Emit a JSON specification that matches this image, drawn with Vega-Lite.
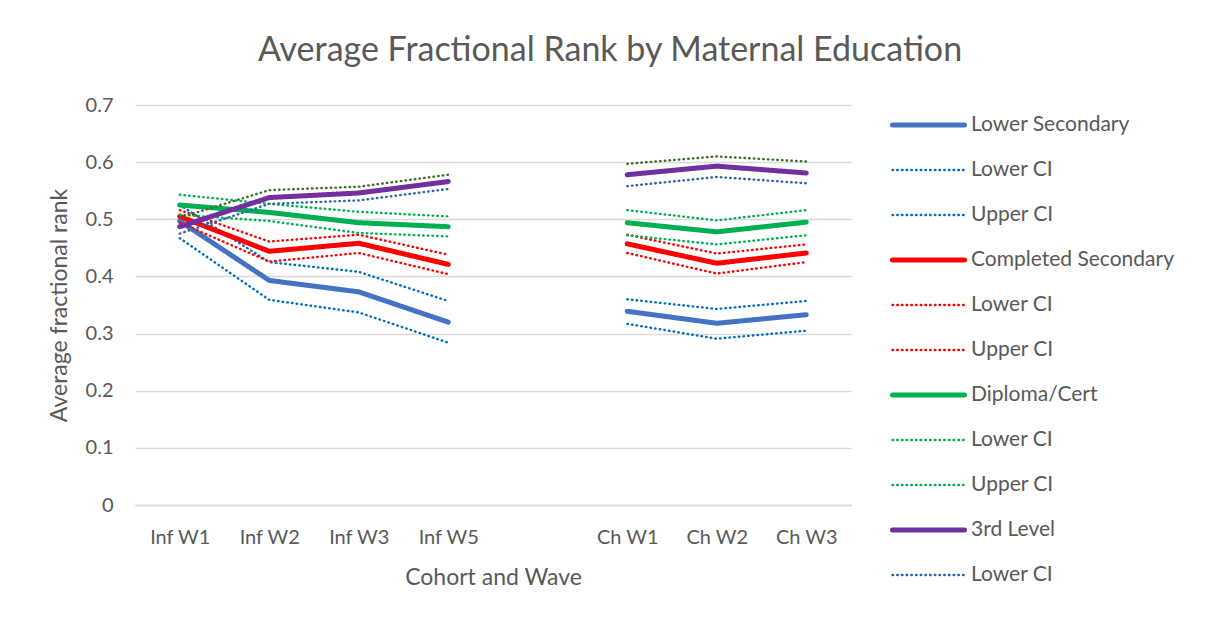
{
  "$schema": "https://vega.github.io/schema/vega-lite/v6.json",
  "width": 716,
  "height": 400,
  "autosize": {"type": "none"},
  "padding": {"left": 135, "top": 105, "right": 360, "bottom": 117},
  "background": "white",
  "title": {
    "text": "Average Fractional Rank by Maternal Education",
    "font": "Lato",
    "fontSize": 34,
    "fontWeight": "normal",
    "color": "#595959",
    "anchor": "middle",
    "frame": "group",
    "dx": 117,
    "offset": 27
  },
  "data": {
    "values": [
      {"wave": "Inf W1", "cohort": "Inf", "Lower Secondary": 0.497, "Lower CI~LS": 0.467, "Upper CI~LS": 0.525, "Completed Secondary": 0.505, "Lower CI~CS": 0.494, "Upper CI~CS": 0.516, "Diploma/Cert": 0.525, "Lower CI~DC": 0.508, "Upper CI~DC": 0.543, "3rd Level": 0.487, "Lower CI~TL": 0.475, "Upper CI~TL": 0.503},
      {"wave": "Inf W2", "cohort": "Inf", "Lower Secondary": 0.393, "Lower CI~LS": 0.359, "Upper CI~LS": 0.425, "Completed Secondary": 0.444, "Lower CI~CS": 0.426, "Upper CI~CS": 0.461, "Diploma/Cert": 0.512, "Lower CI~DC": 0.497, "Upper CI~DC": 0.527, "3rd Level": 0.538, "Lower CI~TL": 0.527, "Upper CI~TL": 0.551},
      {"wave": "Inf W3", "cohort": "Inf", "Lower Secondary": 0.373, "Lower CI~LS": 0.337, "Upper CI~LS": 0.408, "Completed Secondary": 0.458, "Lower CI~CS": 0.441, "Upper CI~CS": 0.473, "Diploma/Cert": 0.494, "Lower CI~DC": 0.476, "Upper CI~DC": 0.513, "3rd Level": 0.546, "Lower CI~TL": 0.533, "Upper CI~TL": 0.557},
      {"wave": "Inf W5", "cohort": "Inf", "Lower Secondary": 0.320, "Lower CI~LS": 0.284, "Upper CI~LS": 0.357, "Completed Secondary": 0.421, "Lower CI~CS": 0.404, "Upper CI~CS": 0.438, "Diploma/Cert": 0.487, "Lower CI~DC": 0.470, "Upper CI~DC": 0.505, "3rd Level": 0.566, "Lower CI~TL": 0.553, "Upper CI~TL": 0.578},
      {"wave": "Ch W1", "cohort": "Ch", "Lower Secondary": 0.339, "Lower CI~LS": 0.317, "Upper CI~LS": 0.360, "Completed Secondary": 0.457, "Lower CI~CS": 0.441, "Upper CI~CS": 0.473, "Diploma/Cert": 0.494, "Lower CI~DC": 0.472, "Upper CI~DC": 0.516, "3rd Level": 0.578, "Lower CI~TL": 0.558, "Upper CI~TL": 0.597},
      {"wave": "Ch W2", "cohort": "Ch", "Lower Secondary": 0.318, "Lower CI~LS": 0.291, "Upper CI~LS": 0.343, "Completed Secondary": 0.423, "Lower CI~CS": 0.405, "Upper CI~CS": 0.440, "Diploma/Cert": 0.478, "Lower CI~DC": 0.456, "Upper CI~DC": 0.498, "3rd Level": 0.593, "Lower CI~TL": 0.574, "Upper CI~TL": 0.610},
      {"wave": "Ch W3", "cohort": "Ch", "Lower Secondary": 0.333, "Lower CI~LS": 0.305, "Upper CI~LS": 0.357, "Completed Secondary": 0.441, "Lower CI~CS": 0.425, "Upper CI~CS": 0.456, "Diploma/Cert": 0.495, "Lower CI~DC": 0.472, "Upper CI~DC": 0.516, "3rd Level": 0.581, "Lower CI~TL": 0.563, "Upper CI~TL": 0.601}
    ]
  },
  "transform": [
    {"fold": ["Lower Secondary", "Lower CI~LS", "Upper CI~LS", "Completed Secondary", "Lower CI~CS", "Upper CI~CS", "Diploma/Cert", "Lower CI~DC", "Upper CI~DC", "3rd Level", "Lower CI~TL", "Upper CI~TL"], "as": ["series", "value"]}
  ],
  "mark": {"type": "line", "strokeCap": "round", "strokeJoin": "round"},
  "encoding": {
    "x": {
      "field": "wave",
      "type": "ordinal",
      "scale": {"type": "point", "domain": ["Inf W1", "Inf W2", "Inf W3", "Inf W5", " ", "Ch W1", "Ch W2", "Ch W3"], "padding": 0.5},
      "axis": {
        "title": "Cohort and Wave",
        "labelAngle": 0,
        "labelFont": "Lato",
        "labelFontSize": 20,
        "labelColor": "#595959",
        "labelPadding": 22,
        "ticks": false,
        "domain": true,
        "domainColor": "#d9d9d9",
        "domainWidth": 1.3,
        "grid": false,
        "titleFont": "Lato",
        "titleFontSize": 23,
        "titleFontWeight": "normal",
        "titleColor": "#595959",
        "titlePadding": 19
      }
    },
    "y": {
      "field": "value",
      "type": "quantitative",
      "scale": {"domain": [0, 0.7], "nice": false, "zero": true},
      "axis": {
        "title": "Average fractional rank",
        "values": [0, 0.1, 0.2, 0.3, 0.4, 0.5, 0.6, 0.7],
        "format": ".1~f",
        "labelFont": "Lato",
        "labelFontSize": 20,
        "labelColor": "#595959",
        "labelPadding": 22,
        "ticks": false,
        "domain": false,
        "grid": true,
        "gridColor": "#d9d9d9",
        "gridWidth": 1.3,
        "titleFont": "Lato",
        "titleFontSize": 23,
        "titleFontWeight": "normal",
        "titleColor": "#595959",
        "titlePadding": 14
      }
    },
    "detail": {"field": "cohort"},
    "color": {
      "field": "series",
      "type": "nominal",
      "scale": {
        "domain": ["Lower Secondary", "Lower CI~LS", "Upper CI~LS", "Completed Secondary", "Lower CI~CS", "Upper CI~CS", "Diploma/Cert", "Lower CI~DC", "Upper CI~DC", "3rd Level", "Lower CI~TL", "Upper CI~TL"],
        "range": ["#4472C4", "#0070C0", "#0070C0", "#FF0000", "#FF0000", "#FF0000", "#00B050", "#00B050", "#00B050", "#7030A0", "#2E67A8", "#476B2E"]
      },
      "legend": {
        "orient": "none",
        "legendX": 755,
        "legendY": 10,
        "title": null,
        "values": ["Lower Secondary", "Lower CI~LS", "Upper CI~LS", "Completed Secondary", "Lower CI~CS", "Upper CI~CS", "Diploma/Cert", "Lower CI~DC", "Upper CI~DC", "3rd Level", "Lower CI~TL"],
        "labelExpr": "split(datum.label, '~')[0]",
        "symbolType": "stroke",
        "symbolSize": 5184,
        "clipHeight": 20,
        "labelFont": "Lato",
        "labelFontSize": 21,
        "labelColor": "#595959",
        "labelOffset": 4,
        "labelLimit": 400,
        "rowPadding": 24,
        "padding": 0,
        "encode": {"symbols": {"update": {"strokeCap": {"value": "round"}}}}
      }
    },
    "strokeDash": {
      "field": "series",
      "type": "nominal",
      "scale": {
        "type": "ordinal",
        "domain": ["Lower Secondary", "Lower CI~LS", "Upper CI~LS", "Completed Secondary", "Lower CI~CS", "Upper CI~CS", "Diploma/Cert", "Lower CI~DC", "Upper CI~DC", "3rd Level", "Lower CI~TL", "Upper CI~TL"],
        "range": [[1, 0], [0.6, 4.1], [0.6, 4.1], [1, 0], [0.6, 4.1], [0.6, 4.1], [1, 0], [0.6, 4.1], [0.6, 4.1], [1, 0], [0.6, 4.1], [0.6, 4.1]]
      }
    },
    "strokeWidth": {
      "field": "series",
      "type": "nominal",
      "scale": {
        "type": "ordinal",
        "domain": ["Lower Secondary", "Lower CI~LS", "Upper CI~LS", "Completed Secondary", "Lower CI~CS", "Upper CI~CS", "Diploma/Cert", "Lower CI~DC", "Upper CI~DC", "3rd Level", "Lower CI~TL", "Upper CI~TL"],
        "range": [5, 2.4, 2.4, 5, 2.4, 2.4, 5, 2.4, 2.4, 5, 2.4, 2.4]
      }
    }
  },
  "config": {"view": {"stroke": null}}
}
